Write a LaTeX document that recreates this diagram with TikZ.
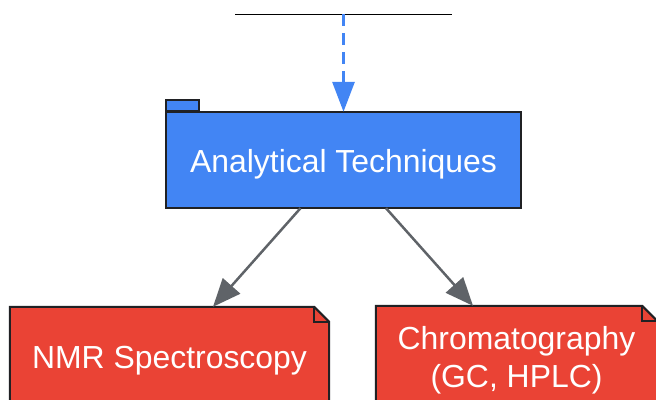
\documentclass[tikz,border=0pt]{standalone}
\usepackage{fontspec}
\setmainfont{Liberation Sans}
\usetikzlibrary{arrows.meta}
\definecolor{gblue}{HTML}{4285F4}
\definecolor{gred}{HTML}{EA4335}
\definecolor{ggray}{HTML}{5F6368}
\definecolor{gdark}{HTML}{202124}
\tikzset{
  boxtext/.style={text=white, font=\fontsize{31.9}{38}\selectfont, align=center, inner sep=0pt},
  pkg/.style={boxtext, minimum width=355pt, minimum height=96pt},
  note/.style={boxtext, minimum width=#1, minimum height=100pt},
  outline/.style={draw=gdark, line width=2pt, line join=miter},
  link/.style={draw=ggray, line width=2.5pt, -{Triangle[length=28pt,width=23pt]}},
  dashlink/.style={draw=gblue, line width=3pt, dash pattern=on 12pt off 7pt, -{Triangle[length=30pt,width=22pt]}},
}
\begin{document}
\begin{tikzpicture}[x=1pt,y=-1pt]
\useasboundingbox (0,0) rectangle (656,399);
\clip (0,0) rectangle (656,399);
% top frame edge
\coordinate (tl) at (235,14);
\coordinate (tr) at (452,14);
\coordinate (src) at (343.5,14);
\draw[black, line width=1pt] (tl) -- (tr);
% package node
\node[pkg] (main) at (343.5,160) {};
\draw[outline, fill=gblue] ([yshift=1pt]main.north west) rectangle ([xshift=33pt,yshift=12pt]main.north west);
\draw[outline, fill=gblue] (main.north west) rectangle (main.south east);
\node[boxtext, yshift=-4pt] at (main.center) {Analytical Techniques};
% notes
\node[note=319pt] (nmr) at (169.5,357) {};
\node[note=281pt] (chrom) at (516.5,356) {};
\foreach \n in {nmr,chrom}{
  \draw[outline, fill=gred] (\n.north west) -- ([xshift=-15pt]\n.north east) -- ([yshift=-15pt]\n.north east) -- (\n.south east) -- (\n.south west) -- cycle;
  \draw[outline] ([xshift=-15pt]\n.north east) -- ([xshift=-15pt,yshift=-15pt]\n.north east) -- ([yshift=-15pt]\n.north east);
}
\node[boxtext, yshift=-4pt] at (nmr.center) {NMR Spectroscopy};
\node[boxtext, yshift=-4pt] at (chrom.center) {Chromatography\\(GC, HPLC)};
% connectors
\draw[dashlink] (src) -- (main.north);
\draw[link] ([xshift=-43pt]main.south) -- ([xshift=43.5pt]nmr.north);
\draw[link] ([xshift=42.5pt]main.south) -- ([xshift=-43.5pt]chrom.north);
\end{tikzpicture}
\end{document}
